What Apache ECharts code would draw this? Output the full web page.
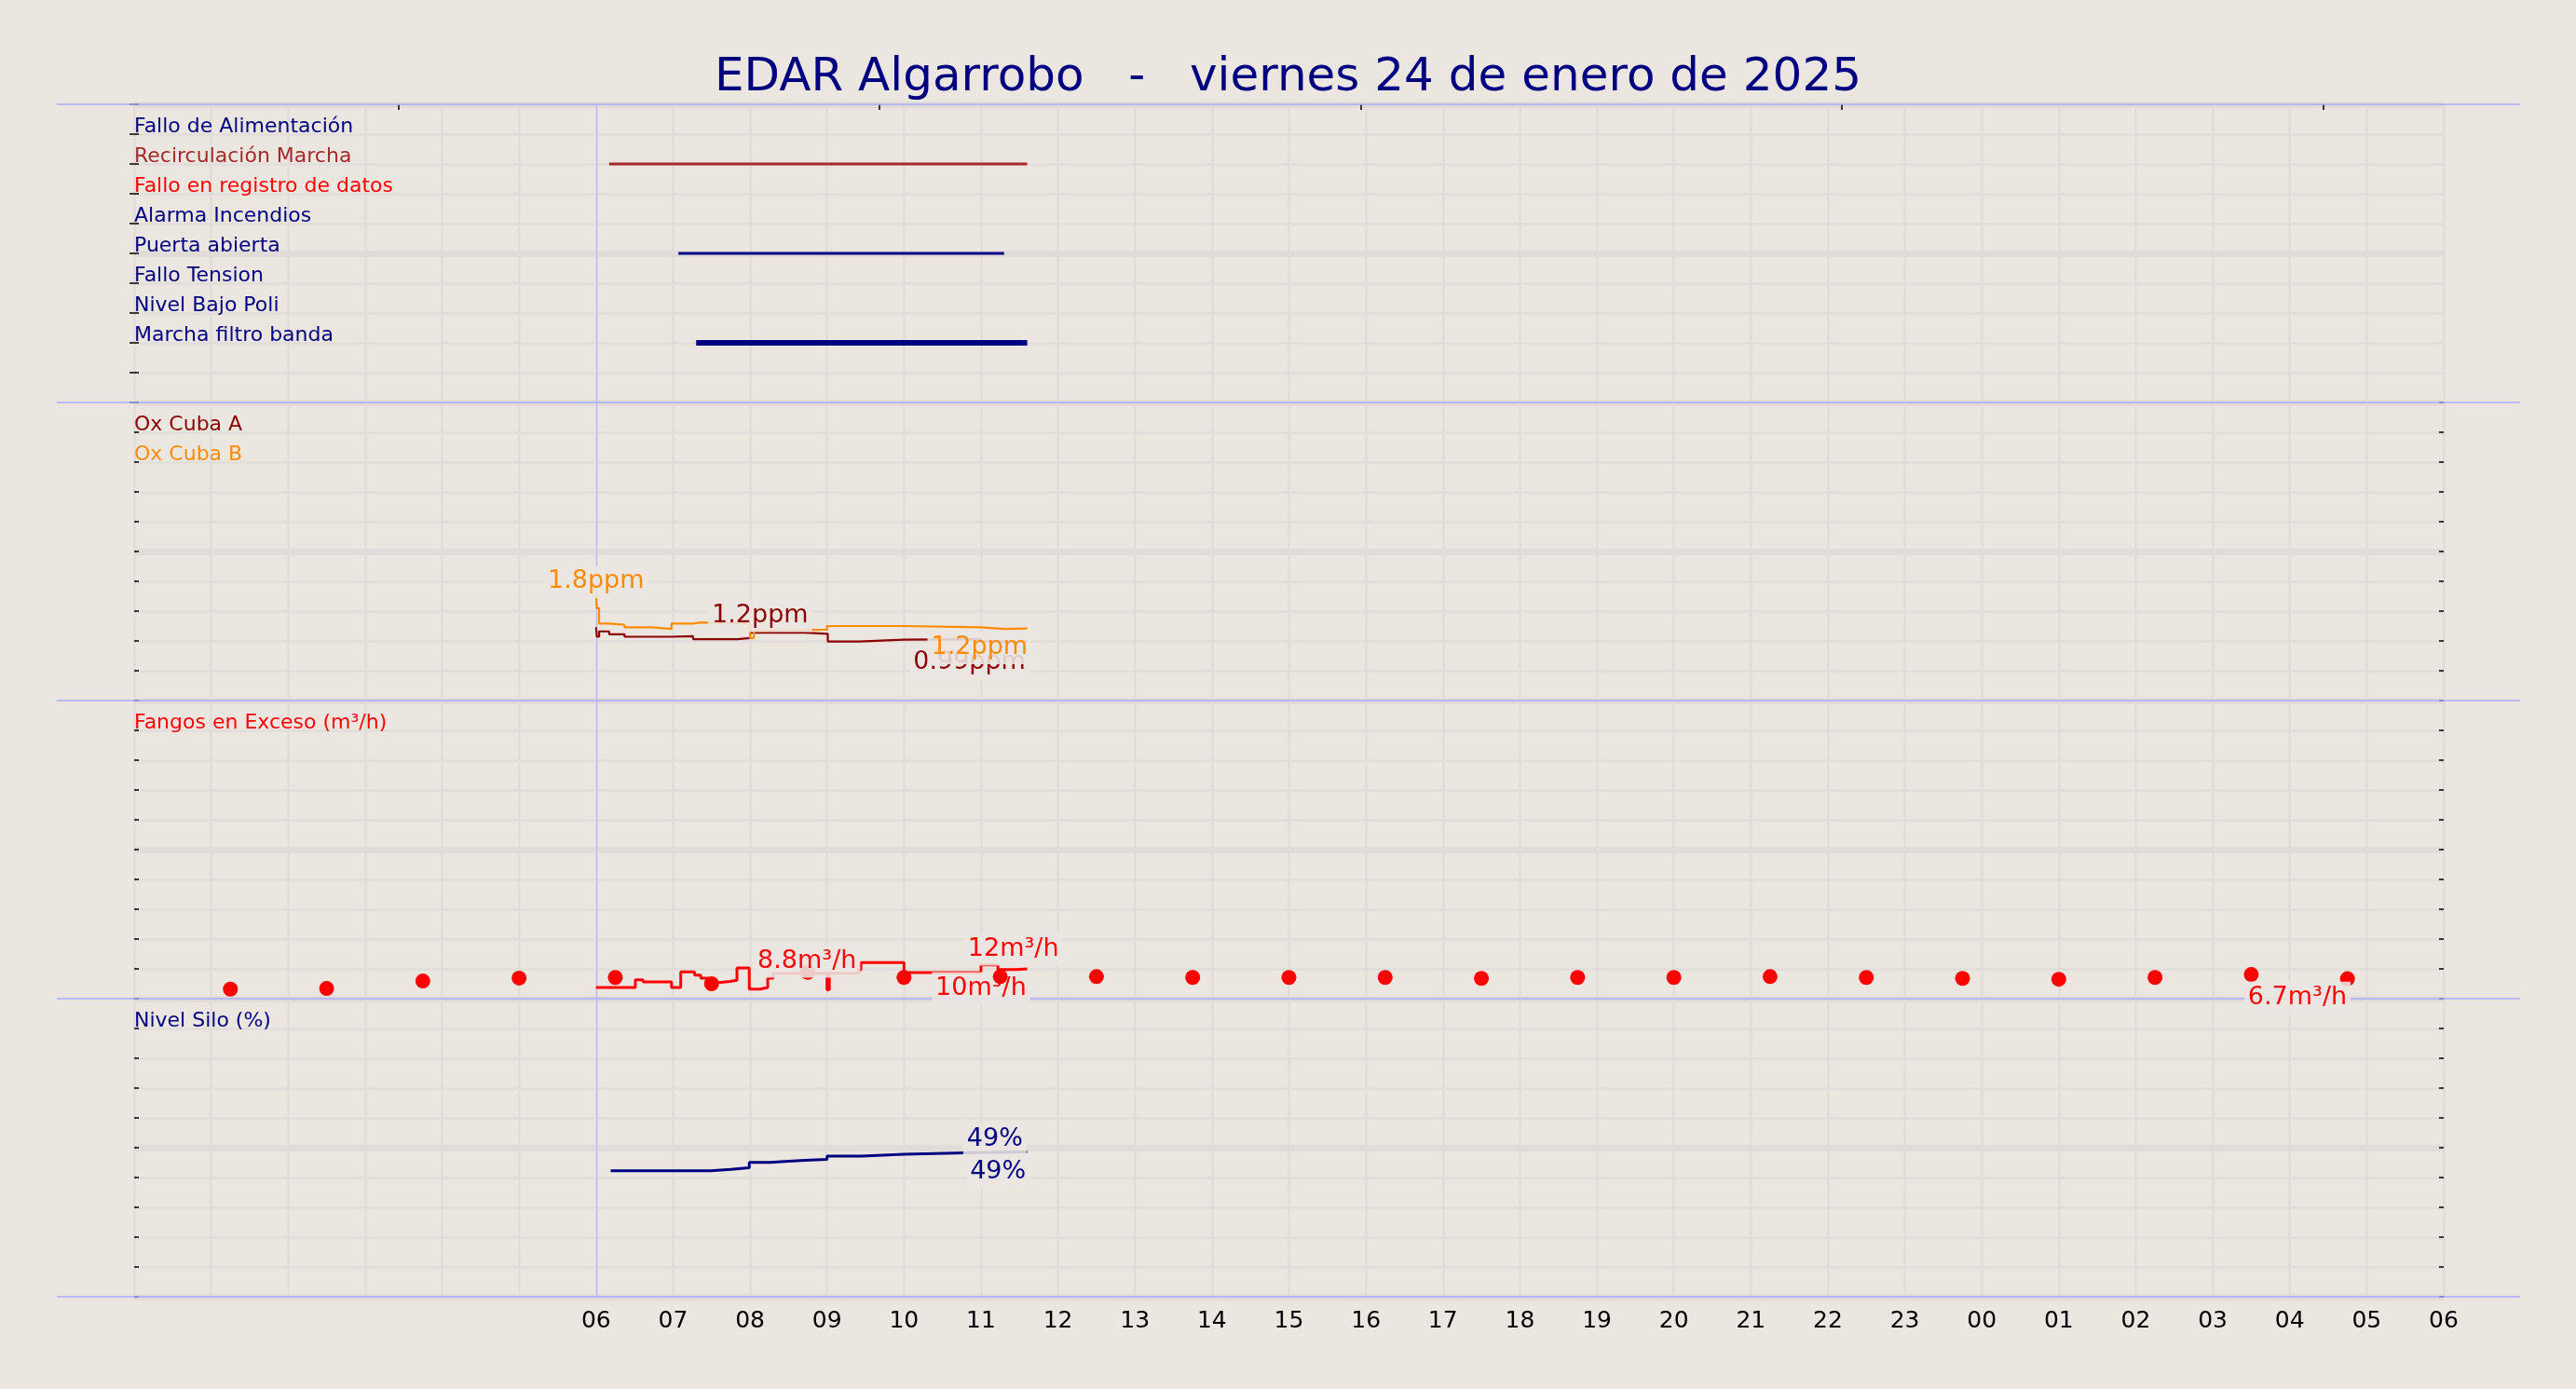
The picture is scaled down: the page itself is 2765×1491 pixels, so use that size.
<!DOCTYPE html>
<html>
<head>
<meta charset="utf-8">
<title>EDAR Algarrobo</title>
<script src="https://cdn.jsdelivr.net/npm/echarts@6/dist/echarts.min.js"></script>
<style>
  html, body { margin: 0; padding: 0; background: #ebe6e0; }
  #chart { width: 2765px; height: 1491px; }
</style>
</head>
<body>
<div id="chart"></div>
<script>
// ---- datos (horas desde las 00:00 del viernes 24) ----
const titleText = 'EDAR Algarrobo   -   viernes 24 de enero de 2025';

// alarmas / marchas
const signalNames = ['Fallo de Alimentación', 'Recirculación Marcha', 'Fallo en registro de datos',
  'Alarma Incendios', 'Puerta abierta', 'Fallo Tension', 'Nivel Bajo Poli', 'Marcha filtro banda'];
const signalColors = ['#000080', '#a52a2a', '#ff0000', '#000080', '#000080', '#000080', '#000080', '#000080'];
const signalRows = [9, 8, 7, 6, 5, 4, 3, 2];
const recircOn = [6.17, 11.6];
const puertaOn = [7.07, 11.3];
const filtroOn = [7.3, 11.6];

// oxigeno (ppm)
const oxA = [[6.0, 1.23], [6.01, 1.07], [6.04, 1.16], [6.17, 1.11], [6.37, 1.07], [6.98, 1.08],
  [7.26, 1.03], [7.84, 1.05], [8.0, 1.19], [8.02, 1.14], [8.71, 1.12], [9.01, 0.99],
  [9.42, 1.02], [10.0, 1.03], [11.0, 0.99], [11.6, 0.99]];
const oxB = [[6.0, 1.77], [6.01, 1.55], [6.04, 1.29], [6.17, 1.27], [6.37, 1.23], [6.73, 1.2],
  [6.98, 1.29], [7.26, 1.31], [7.36, 1.29], [8.0, 1.05], [8.05, 1.17], [8.2, 1.18],
  [8.4, 1.19], [9.0, 1.25], [10.0, 1.23], [11.0, 1.2], [11.3, 1.21], [11.6, 1.21]];

// fangos en exceso (m3/h)
const fangoLine = [[6.0, 3.75], [6.51, 6.35], [6.61, 5.6], [6.98, 3.75], [7.1, 8.96], [7.28, 7.9],
  [7.36, 6.9], [7.46, 5.5], [7.62, 5.8], [7.74, 6.15], [7.83, 10.3], [7.99, 3.2], [8.13, 3.75],
  [8.23, 6.9], [8.3, 8.5], [9.0, 3.0], [9.03, 8.5], [9.41, 9.7], [9.44, 12.1], [10.0, 8.75],
  [11.0, 11.3], [11.22, 9.8], [11.46, 10.0], [11.6, 10.0]];
const fangoDotHours = [1.25, 2.5, 3.75, 5, 6.25, 7.5, 8.75, 10, 11.25, 12.5, 13.75, 15,
  16.25, 17.5, 18.75, 20, 21.25, 22.5, 23.75, 25, 26.25, 27.5, 28.75];
const fangoDotValues = [3.2, 3.4, 5.9, 6.9, 7.1, 5.0, 8.8, 7.1, 7.4, 7.4, 7.1, 7.1,
  7.1, 6.8, 7.1, 7.1, 7.4, 7.1, 6.8, 6.5, 7.1, 8.1, 6.7];

// nivel silo (%)
const siloLevel = [[6.19, 42.3], [7.49, 42.7], [7.75, 43.3], [7.99, 45.1], [8.26, 45.4], [8.45, 45.8],
  [8.72, 46.1], [9.0, 47.2], [9.45, 47.8], [10.0, 48.3], [10.8, 48.6], [11.6, 48.6]];

// etiquetas de valores [texto, hora, valor]
const oxALabels = [['1.2ppm', 8.13, 1.47], ['0.99ppm', 10.85, 0.68]];
const oxBLabels = [['1.8ppm', 6.0, 2.04], ['1.2ppm', 10.98, 0.93]];
const fangoLineLabels = [['12m³/h', 11.42, 17.5], ['10m³/h', 11.0, 4.4]];
const fangoDotLabels = [['8.8m³/h', 8.74, 13.4], ['6.7m³/h', 28.1, 1.2]];
const siloLabels = [['49%', 11.18, 53.8], ['49%', 11.22, 42.7]];

const dayStart = 6;
const topTicks = [3.43, 9.68, 15.93, 22.18, 28.43];
const panelMax = [10, 5, 100, 100];
const panelLabels = [
  signalNames.map((n, i) => [signalRows[i], n, signalColors[i]]),
  [[4.5, 'Ox Cuba A', '#8b0000'], [4, 'Ox Cuba B', '#ff8c00']],
  [[90, 'Fangos en Exceso (m³/h)', '#ff0000']],
  [[90, 'Nivel Silo (%)', '#000080']]
];

// ---- estilo / layout ----
const FONT = 'DejaVu Sans';
const BG = '#ebe6e0';
const GRIDC = '#e1dcda';
const SEP = '#aaaaff';
const LEFT = 144, RIGHT = 142, TOP0 = 112, PH = 320;

const chart = echarts.init(document.getElementById('chart'), null, { renderer: 'canvas' });

function findLabel(i, v) {
  return panelLabels[i].find(l => Math.abs(l[0] - Number(v)) < 1e-6);
}

function notes(list, color, z) {
  return {
    symbol: 'circle',
    symbolSize: 1,
    itemStyle: { color: 'rgba(0,0,0,0)' },
    z: z,
    label: {
      show: true, position: 'inside', offset: [0, 3], formatter: p => p.name,
      color: color, fontSize: 27, fontFamily: FONT,
      backgroundColor: 'rgba(235,230,224,0.88)', padding: [4, 4]
    },
    data: list.map(([t, x, y]) => ({ name: t, coord: [x, y] }))
  };
}

const startLine = {
  silent: true, symbol: 'none', z: 1,
  label: { show: false },
  lineStyle: { color: '#b8b8f2', width: 1.2, type: 'solid' },
  data: [{ xAxis: dayStart }]
};

const grids = [], xAxes = [], yAxes = [];
panelMax.forEach((m, i) => {
  grids.push({ left: LEFT, right: RIGHT, top: TOP0 + PH * i, height: PH });
  xAxes.push({
    type: 'value', gridIndex: i, min: 0, max: 30, interval: 1,
    axisLine: { show: false }, axisTick: { show: false },
    axisLabel: i === 3 ? {
      show: true, margin: 14, fontSize: 25, fontFamily: FONT, color: '#000',
      showMinLabel: true, showMaxLabel: true,
      formatter: v => v >= 6 ? String(v % 24).padStart(2, '0') : ''
    } : { show: false },
    splitLine: { show: true, lineStyle: { color: GRIDC, width: 2.5 } }
  });
  yAxes.push({
    type: 'value', gridIndex: i, min: 0, max: m, interval: m / 10, position: 'left',
    axisLine: { show: false },
    axisTick: { show: true, inside: true, length: 5, lineStyle: { color: '#000', width: 1.5 } },
    axisLabel: {
      show: true, inside: true, margin: 0, fontSize: 22, fontFamily: FONT,
      verticalAlign: 'bottom', lineHeight: 15,
      formatter: v => { const l = findLabel(i, v); return l ? l[1] : ''; },
      color: v => { const l = findLabel(i, v); return l ? l[2] : '#000'; }
    },
    splitLine: { show: true, lineStyle: { color: GRIDC, width: 2.5 } }
  });
  yAxes.push({
    type: 'value', gridIndex: i, min: 0, max: m, interval: m / 10, position: 'right',
    axisLine: { show: false },
    axisTick: { show: true, inside: true, length: 5, lineStyle: { color: '#000', width: 1.5 } },
    axisLabel: { show: false }, splitLine: { show: false }
  });
  yAxes.push({
    type: 'value', gridIndex: i, min: 0, max: m, interval: m / 2, position: 'right',
    axisLine: { show: false }, axisTick: { show: false }, axisLabel: { show: false },
    splitLine: { show: true, lineStyle: { color: GRIDC, width: 7 } }
  });
});
// ticks sueltos arriba
xAxes.push({
  type: 'value', gridIndex: 0, position: 'top', min: 0, max: 30,
  axisLine: { show: false, onZero: false }, axisLabel: { show: false }, splitLine: { show: false },
  axisTick: { show: true, inside: true, length: 6, lineStyle: { color: '#000', width: 1.5 }, customValues: topTicks }
});

function lineSeries(panel, data, color, width, extra) {
  return Object.assign({
    type: 'line', xAxisIndex: panel, yAxisIndex: panel * 3, data: data,
    showSymbol: false, symbol: 'none', step: 'end', z: 3,
    lineStyle: { color: color, width: width }, itemStyle: { color: color },
    animation: false
  }, extra || {});
}

const series = [
  lineSeries(0, [[recircOn[0], signalRows[1]], [recircOn[1], signalRows[1]]], '#a52a2a', 3, { markLine: startLine }),
  lineSeries(0, [[puertaOn[0], signalRows[4]], [puertaOn[1], signalRows[4]]], '#000080', 3),
  lineSeries(0, [[filtroOn[0], signalRows[7]], [filtroOn[1], signalRows[7]]], '#000080', 6),

  lineSeries(1, oxA, '#8b0000', 2.2, { markLine: startLine, markPoint: notes(oxALabels, '#8b0000', 6) }),
  lineSeries(1, oxB, '#ff8c00', 2.2, { markPoint: notes(oxBLabels, '#ff8c00', 6) }),

  lineSeries(2, fangoLine, '#ff0000', 3, { markLine: startLine, markPoint: notes(fangoLineLabels, '#ff0000', 4) }),
  {
    type: 'scatter', xAxisIndex: 2, yAxisIndex: 6, symbol: 'circle', symbolSize: 16, z: 5,
    itemStyle: { color: '#ff0000', opacity: 1 }, animation: false,
    data: fangoDotHours.map((h, k) => [h, fangoDotValues[k]]),
    markPoint: notes(fangoDotLabels, '#ff0000', 7)
  },

  lineSeries(3, siloLevel, '#000080', 3, { markLine: startLine, markPoint: notes(siloLabels, '#000080', 6) })
];

// separadores entre paneles
const separators = [0, 1, 2, 3, 4].map(k => ({
  type: 'line', z: 2, silent: true,
  shape: { x1: 61, y1: TOP0 + PH * k, x2: 2705, y2: TOP0 + PH * k },
  style: { stroke: SEP, lineWidth: 1.5 }
}));

chart.setOption({
  backgroundColor: BG,
  animation: false,
  title: {
    text: titleText, left: 'center', top: 54,
    textStyle: { fontSize: 50, color: '#000080', fontWeight: 'normal', fontFamily: FONT }
  },
  grid: grids,
  xAxis: xAxes,
  yAxis: yAxes,
  series: series,
  graphic: separators
});
</script>
</body>
</html>
